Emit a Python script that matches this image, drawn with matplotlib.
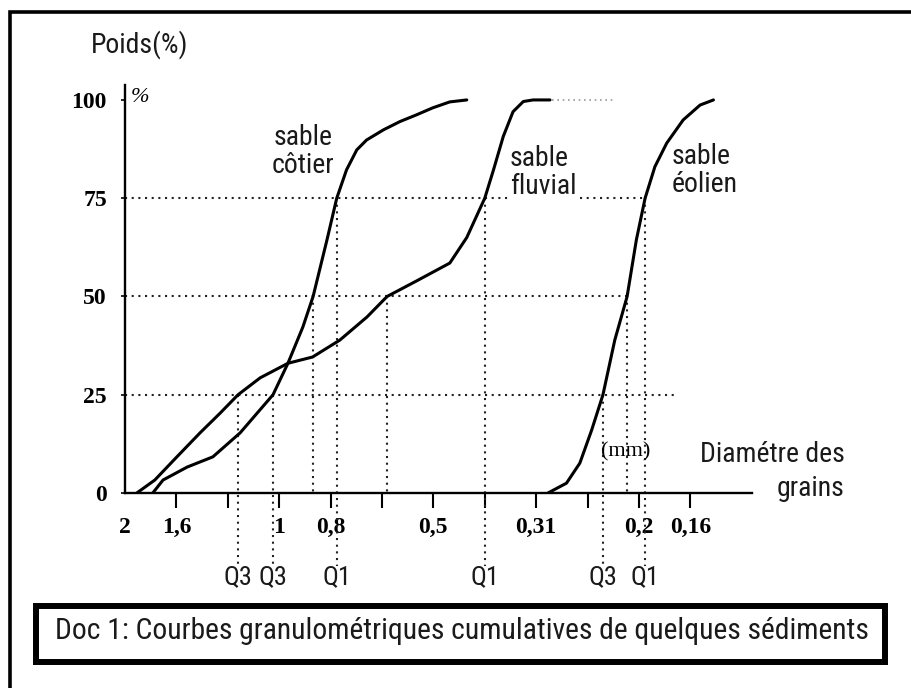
import matplotlib
matplotlib.use('Agg')
import matplotlib.pyplot as plt
from matplotlib import font_manager
from matplotlib.font_manager import FontProperties
from matplotlib.patches import Rectangle

# x positions are the evenly spaced tick slots of the drawing (0 = 2 mm)
TICK_LABELS = ['2', '1,6', '', '1', '0,8', '', '0,5', '', '0,31', '', '0,2', '0,16']
Y_TICKS = [0, 25, 50, 75, 100]

# cumulative weight (%)
COTIER_X = [0.54, 0.74, 1.21, 1.71, 2.24, 2.88, 3.17, 3.46, 3.66, 3.93, 4.12,
            4.31, 4.51, 4.70, 5.03, 5.35, 5.67, 5.99, 6.32, 6.65]
COTIER_Y = [0, 3.3, 6.6, 9.2, 15.3, 25, 33, 42.2, 50, 64.4, 75,
            82.2, 87.3, 89.8, 92.4, 94.5, 96.2, 98, 99.5, 100]

FLUVIAL_X = [0.23, 0.58, 1.01, 1.46, 1.85, 2.20, 2.63, 3.17, 3.65, 4.18, 4.71,
             5.10, 5.68, 6.32, 6.65, 7.00, 7.17, 7.36, 7.55, 7.75, 7.94, 8.27]
FLUVIAL_Y = [0, 3.3, 9.2, 15.3, 20.3, 25, 29.3, 33, 34.6, 38.9, 44.8,
             50, 54, 58.5, 65, 75, 82.2, 90.7, 97, 99.6, 100, 100]

EOLIEN_X = [8.23, 8.59, 8.85, 9.08, 9.30, 9.53, 9.77, 9.95, 10.12, 10.31,
            10.54, 10.86, 11.19, 11.45]
EOLIEN_Y = [0, 2.5, 7.6, 16, 25, 38.9, 50, 64.4, 75, 83,
            89, 94.9, 98.7, 100]

# quartile reading lines
Q_X = [2.20, 2.88, 4.12, 7.00, 9.30, 10.12]
Q_LEVEL = [25, 25, 75, 75, 25, 75]
Q_NAMES = ['Q3', 'Q3', 'Q1', 'Q1', 'Q3', 'Q1']
MEDIAN_X = [3.66, 5.10, 9.77]

# horizontal reading lines: level, start, end
H_LEVEL = [25, 50, 75, 75]
H_START = [0, 0, 0, 8.85]
H_END = [10.74, 9.77, 7.49, 10.12]


def narrow_font():
    # the scan uses an Arial Narrow look; take a condensed sans face if one is installed
    fl = font_manager.fontManager.ttflist
    for want in ['Liberation Sans Narrow', 'Roboto Condensed', 'Open Sans Condensed']:
        for f in fl:
            if f.name == want and f.style == 'normal' and f.weight in (400, 'normal', 'regular'):
                return f.fname, True
    for f in fl:
        if f.name in ('DejaVu Sans', 'Roboto', 'Open Sans', 'Noto Sans', 'Liberation Sans') \
                and f.stretch == 'condensed' and f.style == 'normal' \
                and f.weight in (400, 'normal', 'regular'):
            return f.fname, True
    return None, False


fname, NARROW = narrow_font()
k = 1.0 if NARROW else 0.86


def sans(size):
    if fname:
        return FontProperties(fname=fname, size=size)
    return FontProperties(family='Liberation Sans', size=size * k)


SERIF = 'Liberation Serif'

W, H = 911, 688
fig = plt.figure(figsize=(W / 100, H / 100), dpi=100)
ax = fig.add_axes([125 / W, (H - 493) / H, 627 / W, 408 / H])
ax.set_xlim(0, 12.2)
ax.set_ylim(0, 103.8)

for s in ['top', 'right']:
    ax.spines[s].set_visible(False)
for s in ['left', 'bottom']:
    ax.spines[s].set_linewidth(1.7)

dot = (0, (1, 2.2))
for lev, a, b in zip(H_LEVEL, H_START, H_END):
    ax.plot([a, b], [lev, lev], color='#222222', lw=1.5, ls=dot)
ax.plot([8.3, 9.5], [100, 100], color='#999999', lw=1.2, ls=dot)

BOTTOM = -18.5
for x, lev in zip(Q_X, Q_LEVEL):
    ax.plot([x, x], [lev, BOTTOM], color='#222222', lw=1.5, ls=dot, clip_on=False)
for x in MEDIAN_X:
    ax.plot([x, x], [50, 0], color='#222222', lw=1.5, ls=dot)

for xs, ys in [(COTIER_X, COTIER_Y), (FLUVIAL_X, FLUVIAL_Y), (EOLIEN_X, EOLIEN_Y)]:
    ax.plot(xs, ys, color='black', lw=2.2, solid_joinstyle='round', solid_capstyle='round')

ax.set_xticks(range(len(TICK_LABELS)))
ax.set_xticklabels(TICK_LABELS, fontfamily=SERIF, fontweight='bold', fontsize=17)
ax.tick_params(axis='x', length=11, width=1.5, direction='out', pad=6)
ax.xaxis.get_major_ticks()[0].tick1line.set_visible(False)

ax.set_yticks(Y_TICKS)
ax.set_yticklabels([str(v) for v in Y_TICKS], fontfamily=SERIF, fontweight='bold', fontsize=17)
ax.tick_params(axis='y', length=3, width=1.2, direction='out', pad=10)

ax.text(0.12, 100.5, '%', fontfamily=SERIF, fontstyle='italic', fontsize=16,
        ha='left', va='center')
ax.text(0.29, 114, 'Poids(%)', fontproperties=sans(20), ha='center', va='center',
        clip_on=False, color='#1a1a1a')

lab = dict(va='center', linespacing=1.05, color='#1a1a1a')
ax.text(3.46, 87, 'sable\ncôtier', ha='center', fontproperties=sans(20), **lab)
ax.text(7.49, 81.5, 'sable\nfluvial', ha='left', fontproperties=sans(20), **lab)
ax.text(10.64, 82, 'sable\néolien', ha='left', fontproperties=sans(20), **lab)

ax.text(9.75, 10.4, '(mm)', fontfamily=SERIF, fontsize=16, ha='center', va='center')
ax.text(14.0, 5.5, 'Diamétre des\ngrains', ha='right', va='center', clip_on=False,
        fontproperties=sans(20), linespacing=1.3, color='#1a1a1a')

for x, name in zip(Q_X, Q_NAMES):
    ax.text(x, -21.4, name, fontproperties=sans(19), ha='center', va='center',
            clip_on=False, color='#1a1a1a')

# outer frame and caption box
fig.patches.append(Rectangle((10 / W, -0.1), 1.2, (H - 12) / H + 0.1, transform=fig.transFigure,
                             fill=False, lw=2.6, ec='black'))
fig.patches.append(Rectangle((36 / W, (H - 661.5) / H), 849 / W, 55.5 / H,
                             transform=fig.transFigure, fill=False, lw=4.3, ec='black'))
fig.text(462 / W, (H - 631) / H, 'Doc 1: Courbes granulométriques cumulatives de quelques sédiments',
         fontproperties=sans(21.3) if NARROW else FontProperties(family='Liberation Sans', size=19.6),
         ha='center', va='center', color='#1a1a1a')

fig.savefig('out.png', dpi=100)
